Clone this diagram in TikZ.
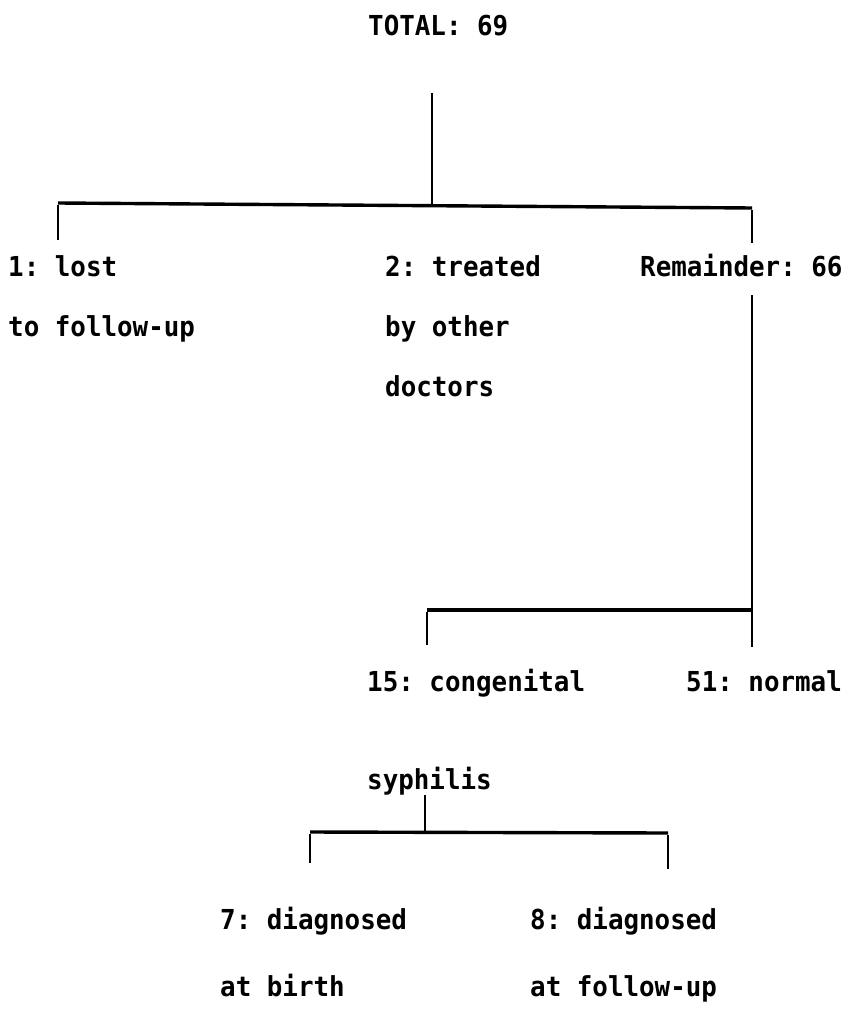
\documentclass[tikz,border=0pt]{standalone}
\usepackage{fontspec}
\setmonofont[FakeStretch=0.94]{DejaVu Sans Mono}
\begin{document}
\begin{tikzpicture}[x=1pt,y=-1pt,
  lbl/.style={anchor=base west,inner sep=0pt,font=\ttfamily\bfseries\fontsize{27.5}{32}\selectfont},
  bar/.style={line width=3.4pt,line cap=butt},
  stem/.style={line width=2.1pt,line cap=butt}]
\useasboundingbox[fill=white] (0,0) rectangle (851,1016);
% labels
\node[lbl] (total) at (368,36) {TOTAL: 69};
\node[lbl] (lost1) at (8,276) {1: lost};
\node[lbl] (lost2) at (8,336) {to follow-up};
\node[lbl] (trt1) at (385,276) {2: treated};
\node[lbl] (trt2) at (385,336) {by other};
\node[lbl] (trt3) at (385,396) {doctors};
\node[lbl] (rem) at (640,276) {Remainder: 66};
\node[lbl] (cong1) at (367,691) {15: congenital};
\node[lbl] (cong2) at (367,789) {syphilis};
\node[lbl] (norm) at (686,691) {51: normal};
\node[lbl] (birth1) at (220,929) {7: diagnosed};
\node[lbl] (birth2) at (220,996) {at birth};
\node[lbl] (fu1) at (530,929) {8: diagnosed};
\node[lbl] (fu2) at (530,996) {at follow-up};
% junction coordinates
\coordinate (t0) at (432,93);
\coordinate (t1) at (432,205);
\coordinate (a1) at (58,203);
\coordinate (a2) at (58,240);
\coordinate (b1) at (752,208);
\coordinate (b2) at (752,243);
\coordinate (r0) at (752,295);
\coordinate (r1) at (752,610);
\coordinate (c1) at (427,610);
\coordinate (c2) at (427,645);
\coordinate (n2) at (752,647);
\coordinate (s0) at (425,795);
\coordinate (s1) at (425,832);
\coordinate (d1) at (310,832);
\coordinate (d2) at (310,863);
\coordinate (e1) at (668,833);
\coordinate (e2) at (668,869);
% connectors
\draw[stem] (t0) -- (t1);
\draw[bar] (a1) -- (b1);
\draw[stem] ([yshift=-1.7pt]a1) -- (a2);
\draw[stem] ([yshift=-1.7pt]b1) -- (b2);
\draw[stem] (r0) -- (n2);
\draw[bar] (c1) -- (r1);
\draw[stem] ([yshift=-1.7pt]c1) -- (c2);
\draw[stem] (s0) -- (s1);
\draw[bar] (d1) -- (e1);
\draw[stem] ([yshift=-1.7pt]d1) -- (d2);
\draw[stem] ([yshift=-1.7pt]e1) -- (e2);
\end{tikzpicture}
\end{document}
